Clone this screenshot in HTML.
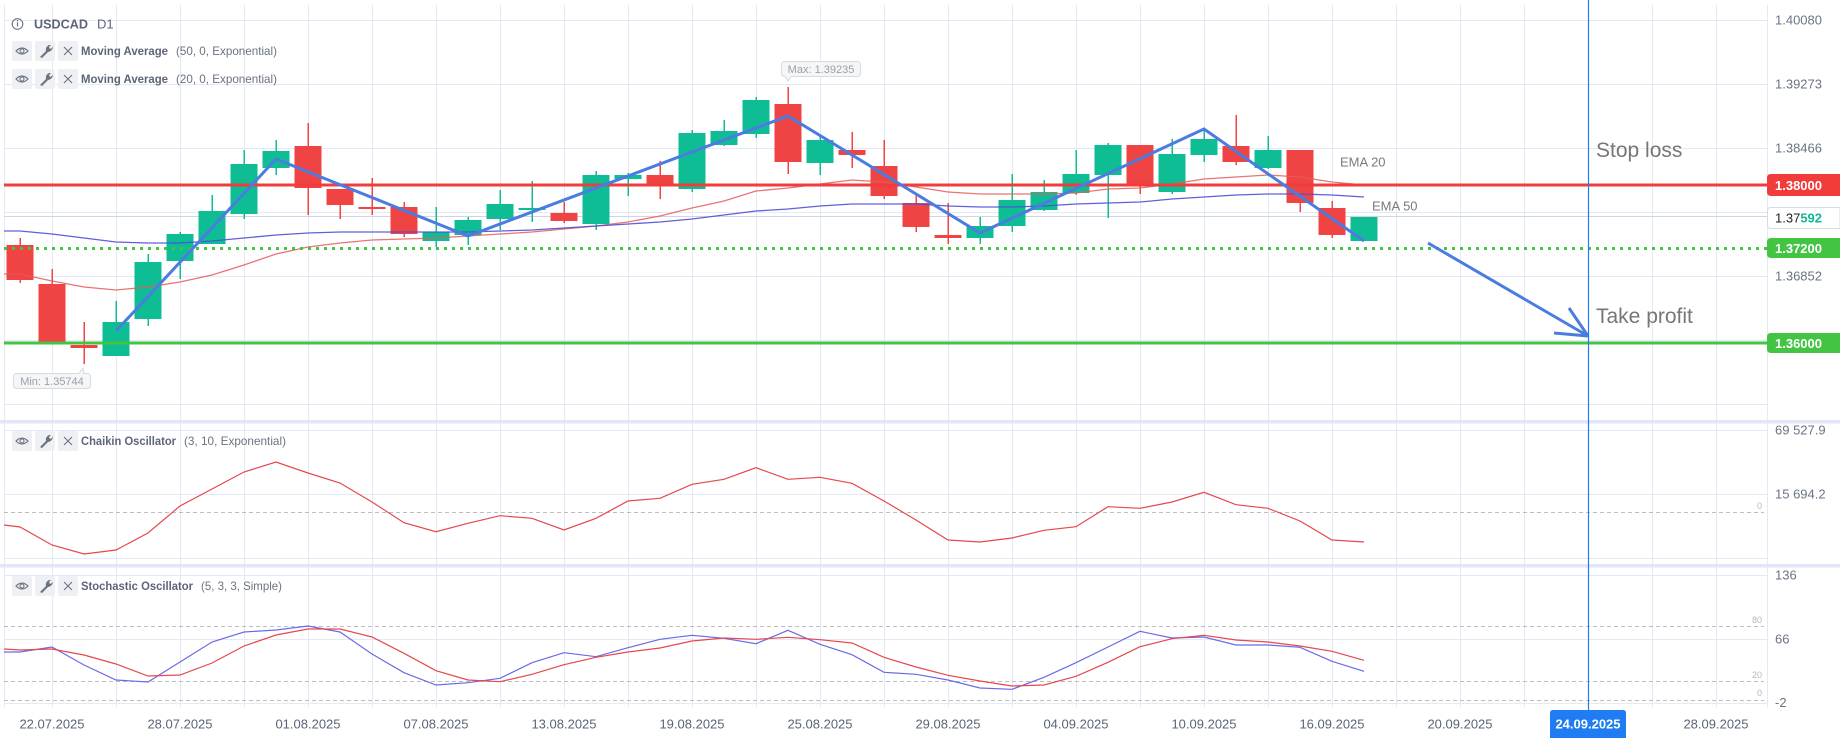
<!DOCTYPE html>
<html><head><meta charset="utf-8"><style>
html,body{margin:0;padding:0;background:#fff;}
svg{display:block;font-family:"Liberation Sans",sans-serif;}
</style></head><body>
<svg width="1840" height="738" viewBox="0 0 1840 738" xmlns="http://www.w3.org/2000/svg">
<rect width="1840" height="738" fill="#fff"/>
<defs><clipPath id="cp"><rect x="4" y="0" width="1763" height="708"/></clipPath></defs>
<!-- grid -->
<g stroke="#e3e9f6" stroke-width="1" shape-rendering="crispEdges">
<line x1="4.5" y1="5" x2="4.5" y2="708"/>
<g id="vg">
<line x1="52.5" y1="5" x2="52.5" y2="708"/><line x1="116.5" y1="5" x2="116.5" y2="708"/><line x1="180.5" y1="5" x2="180.5" y2="708"/><line x1="244.5" y1="5" x2="244.5" y2="708"/><line x1="308.5" y1="5" x2="308.5" y2="708"/><line x1="372.5" y1="5" x2="372.5" y2="708"/><line x1="436.5" y1="5" x2="436.5" y2="708"/><line x1="500.5" y1="5" x2="500.5" y2="708"/><line x1="564.5" y1="5" x2="564.5" y2="708"/><line x1="628.5" y1="5" x2="628.5" y2="708"/><line x1="692.5" y1="5" x2="692.5" y2="708"/><line x1="756.5" y1="5" x2="756.5" y2="708"/><line x1="820.5" y1="5" x2="820.5" y2="708"/><line x1="884.5" y1="5" x2="884.5" y2="708"/><line x1="948.5" y1="5" x2="948.5" y2="708"/><line x1="1012.5" y1="5" x2="1012.5" y2="708"/><line x1="1076.5" y1="5" x2="1076.5" y2="708"/><line x1="1140.5" y1="5" x2="1140.5" y2="708"/><line x1="1204.5" y1="5" x2="1204.5" y2="708"/><line x1="1268.5" y1="5" x2="1268.5" y2="708"/><line x1="1332.5" y1="5" x2="1332.5" y2="708"/><line x1="1396.5" y1="5" x2="1396.5" y2="708"/><line x1="1460.5" y1="5" x2="1460.5" y2="708"/><line x1="1524.5" y1="5" x2="1524.5" y2="708"/><line x1="1588.5" y1="5" x2="1588.5" y2="708"/><line x1="1652.5" y1="5" x2="1652.5" y2="708"/><line x1="1716.5" y1="5" x2="1716.5" y2="708"/>
</g>
<line x1="1767.5" y1="5" x2="1767.5" y2="708"/>
<line x1="4" y1="20.5" x2="1767" y2="20.5"/><line x1="4" y1="84.5" x2="1767" y2="84.5"/><line x1="4" y1="148.5" x2="1767" y2="148.5"/><line x1="4" y1="212.5" x2="1767" y2="212.5"/><line x1="4" y1="276.5" x2="1767" y2="276.5"/><line x1="4" y1="340.5" x2="1767" y2="340.5"/><line x1="4" y1="404.5" x2="1767" y2="404.5"/>
<line x1="4" y1="430.5" x2="1767" y2="430.5"/><line x1="4" y1="494.5" x2="1767" y2="494.5"/><line x1="4" y1="558.5" x2="1767" y2="558.5"/>
<line x1="4" y1="575.5" x2="1767" y2="575.5"/><line x1="4" y1="639.5" x2="1767" y2="639.5"/><line x1="4" y1="703.5" x2="1767" y2="703.5"/>
</g>
<!-- separators -->
<rect x="0" y="420" width="1840" height="3.5" fill="#e0e7f6"/>
<rect x="0" y="564" width="1840" height="3.5" fill="#e0e7f6"/>
<!-- dashed levels -->
<g stroke="#bdbdbd" stroke-width="1" stroke-dasharray="4 3" shape-rendering="crispEdges">
<line x1="4" y1="512.5" x2="1764" y2="512.5"/>
<line x1="4" y1="626.5" x2="1764" y2="626.5"/>
<line x1="4" y1="681.5" x2="1764" y2="681.5"/>
<line x1="4" y1="700.5" x2="1764" y2="700.5"/>
</g>
<!-- current price line -->
<line x1="4" y1="216.5" x2="1767" y2="216.5" stroke="#cfd5e3" stroke-width="1" shape-rendering="crispEdges"/>

<g clip-path="url(#cp)">
<!-- candles -->
<g id="candles" shape-rendering="crispEdges">
<g fill="#f04343" stroke="none">
<rect x="19.25" y="238" width="1.5" height="45"/><rect x="6.5" y="245" width="27" height="35"/>
<rect x="51.25" y="269" width="1.5" height="73"/><rect x="38.5" y="284" width="27" height="58"/>
<rect x="83.25" y="322" width="1.5" height="42"/><rect x="70.5" y="345" width="27" height="3"/>
<rect x="307.25" y="123" width="1.5" height="92"/><rect x="294.5" y="146" width="27" height="42"/>
<rect x="339.25" y="189" width="1.5" height="30"/><rect x="326.5" y="189" width="27" height="16"/>
<rect x="371.25" y="178" width="1.5" height="37"/><rect x="358.5" y="207" width="27" height="2"/>
<rect x="403.25" y="202" width="1.5" height="35"/><rect x="390.5" y="207" width="27" height="27"/>
<rect x="563.25" y="202" width="1.5" height="21"/><rect x="550.5" y="213" width="27" height="8"/>
<rect x="659.25" y="161" width="1.5" height="38"/><rect x="646.5" y="175" width="27" height="10"/>
<rect x="787.25" y="87" width="1.5" height="87"/><rect x="774.5" y="104" width="27" height="58"/>
<rect x="851.25" y="132" width="1.5" height="36"/><rect x="838.5" y="150" width="27" height="5"/>
<rect x="883.25" y="140" width="1.5" height="59"/><rect x="870.5" y="166" width="27" height="30"/>
<rect x="915.25" y="195" width="1.5" height="37"/><rect x="902.5" y="203" width="27" height="24"/>
<rect x="947.25" y="203" width="1.5" height="41"/><rect x="934.5" y="235" width="27" height="3"/>
<rect x="1139.25" y="145" width="1.5" height="49"/><rect x="1126.5" y="145" width="27" height="40"/>
<rect x="1235.25" y="115" width="1.5" height="50"/><rect x="1222.5" y="146" width="27" height="16"/>
<rect x="1299.25" y="150" width="1.5" height="62"/><rect x="1286.5" y="150" width="27" height="53"/>
<rect x="1331.25" y="201" width="1.5" height="37"/><rect x="1318.5" y="208" width="27" height="27"/>
</g>
<g fill="#0fbd95" stroke="none">
<rect x="115.25" y="301" width="1.5" height="55"/><rect x="102.5" y="322" width="27" height="34"/>
<rect x="147.25" y="254" width="1.5" height="72"/><rect x="134.5" y="262" width="27" height="57"/>
<rect x="179.25" y="232" width="1.5" height="47"/><rect x="166.5" y="234" width="27" height="27"/>
<rect x="211.25" y="195" width="1.5" height="49"/><rect x="198.5" y="211" width="27" height="33"/>
<rect x="243.25" y="150" width="1.5" height="69"/><rect x="230.5" y="164" width="27" height="50"/>
<rect x="275.25" y="140" width="1.5" height="35"/><rect x="262.5" y="151" width="27" height="17"/>
<rect x="435.25" y="207" width="1.5" height="40"/><rect x="422.5" y="232" width="27" height="9"/>
<rect x="467.25" y="217" width="1.5" height="28"/><rect x="454.5" y="220" width="27" height="15"/>
<rect x="499.25" y="190" width="1.5" height="40"/><rect x="486.5" y="204" width="27" height="15"/>
<rect x="531.25" y="181" width="1.5" height="41"/><rect x="518.5" y="208" width="27" height="2"/>
<rect x="595.25" y="171" width="1.5" height="59"/><rect x="582.5" y="175" width="27" height="49"/>
<rect x="627.25" y="173" width="1.5" height="23"/><rect x="614.5" y="175" width="27" height="4"/>
<rect x="691.25" y="130" width="1.5" height="62"/><rect x="678.5" y="133" width="27" height="56"/>
<rect x="723.25" y="120" width="1.5" height="26"/><rect x="710.5" y="131" width="27" height="14"/>
<rect x="755.25" y="97" width="1.5" height="41"/><rect x="742.5" y="100" width="27" height="34"/>
<rect x="819.25" y="136" width="1.5" height="39"/><rect x="806.5" y="140" width="27" height="23"/>
<rect x="979.25" y="217" width="1.5" height="27"/><rect x="966.5" y="226" width="27" height="12"/>
<rect x="1011.25" y="174" width="1.5" height="58"/><rect x="998.5" y="200" width="27" height="26"/>
<rect x="1043.25" y="180" width="1.5" height="31"/><rect x="1030.5" y="192" width="27" height="18"/>
<rect x="1075.25" y="150" width="1.5" height="45"/><rect x="1062.5" y="174" width="27" height="19"/>
<rect x="1107.25" y="143" width="1.5" height="75"/><rect x="1094.5" y="145" width="27" height="30"/>
<rect x="1171.25" y="139" width="1.5" height="55"/><rect x="1158.5" y="154" width="27" height="38"/>
<rect x="1203.25" y="129" width="1.5" height="33"/><rect x="1190.5" y="139" width="27" height="16"/>
<rect x="1267.25" y="136" width="1.5" height="33"/><rect x="1254.5" y="150" width="27" height="18"/>
<rect x="1350.5" y="217" width="27" height="24"/>
</g>
</g>
<!-- EMAs -->
<polyline fill="none" stroke="#e65b5b" stroke-width="1.3" stroke-opacity="0.85" points="4,274 20,274 52,281 84,287 116,290 148,287 180,282 212,275 244,265 276,254 308,247 340,243 372,240 404,239 436,238 468,236 500,234 532,232 564,229 596,226 628,222 660,216 692,208 724,201 756,191 788,188 820,184 852,180 884,182 916,187 948,192 980,194 1012,194 1044,194 1076,193 1108,189 1140,188 1172,184 1204,179 1236,177 1268,175 1300,177 1332,182 1364,185"/>
<polyline fill="none" stroke="#4f4fd6" stroke-width="1.3" stroke-opacity="0.9" points="4,231 20,231 52,234 84,238 116,242 148,243 180,243 212,241 244,238 276,235 308,233 340,232 372,232 404,232 436,232 468,232 500,231 532,230 564,228 596,226 628,224 660,222 692,219 724,215 756,211 788,209 820,206 852,204 884,204 916,204 948,206 980,207 1012,207 1044,206 1076,204 1108,203 1140,202 1172,199 1204,197 1236,195 1268,194 1300,194 1332,195 1364,197"/>
<!-- oscillators -->
<polyline fill="none" stroke="#e5484d" stroke-width="1.2" points="4,525 20,527 52,545 84,554 116,550 148,533 180,506 212,489 244,472 276,462 308,473 340,483 372,502 404,522.7 436,531.7 468,523.3 500,515.7 532,518.3 564,530 596,518.3 628,501 660,498.3 692,484.3 724,479.3 756,467.7 788,479.3 820,477.3 852,483.3 884,501 916,520 948,540 980,542 1012,538 1044,530.3 1076,526.7 1108,506.7 1140,508.3 1172,502 1204,492.3 1236,504.7 1268,508.3 1300,521 1332,540 1364,542"/>
<polyline fill="none" stroke="#6a6ae8" stroke-width="1.2" points="4,652 20,652 52,647 84,665 116,680 148,682 180,662 212,642 244,632 276,630 308,626 340,632 372,654 404,672.7 436,685 468,682.7 500,678.3 532,662.7 564,652.7 596,656.7 628,647.7 660,639.3 692,635.3 724,638.3 756,643.7 788,630.3 820,644.3 852,654.7 884,672.3 916,674.3 948,680 980,688 1012,689.3 1044,677.3 1076,662.7 1108,647 1140,631.3 1172,638 1204,637 1236,645 1268,645 1300,647.3 1332,661.3 1364,671.3"/>
<polyline fill="none" stroke="#e5484d" stroke-width="1.2" points="4,649 20,650 52,649 84,655 116,664 148,676 180,675 212,663 244,646 276,635 308,629 340,629 372,637 404,653.3 436,670.7 468,680 500,681.7 532,674.3 564,664.7 596,657.3 628,652 660,648 692,641 724,638 756,639.3 788,637.3 820,639.7 852,643 884,657.3 916,667 948,675.3 980,681 1012,686 1044,685 1076,676.3 1108,662.3 1140,646.7 1172,638.7 1204,635.3 1236,640 1268,642 1300,646 1332,651.3 1364,660.3"/>
</g>

<!-- horizontal levels -->
<rect x="4" y="183.5" width="1763" height="3" fill="#f23b3b"/>
<line x1="4" y1="248.5" x2="1767" y2="248.5" stroke="#43c443" stroke-width="3" stroke-dasharray="3 5"/>
<rect x="4" y="341.5" width="1763" height="3" fill="#43c443"/>

<!-- trend line -->
<polyline fill="none" stroke="#4a7ddf" stroke-width="3" stroke-linejoin="miter" points="116,331 276,159 468,236 788,116 980,233 1204,129 1364,241"/>
<g stroke="#4a7ddf" stroke-width="3" fill="none" stroke-linecap="butt">
<line x1="1428" y1="243" x2="1588" y2="336"/>
<line x1="1569" y1="308" x2="1588" y2="336"/>
<line x1="1554" y1="333" x2="1588" y2="336"/>
</g>

<!-- vertical blue line -->
<line x1="1588.5" y1="0" x2="1588.5" y2="712" stroke="#1f7cf2" stroke-width="1.2"/>

<!-- text annotations -->
<text x="1340" y="166.5" font-size="13" fill="#7a7a7a">EMA 20</text>
<text x="1372" y="210.5" font-size="13" fill="#7a7a7a">EMA 50</text>
<text x="1596" y="157" font-size="21" fill="#767676">Stop loss</text>
<text x="1596" y="323" font-size="21" fill="#767676">Take profit</text>

<!-- Max / Min labels -->
<g>
<rect x="781.5" y="61.5" width="79" height="15" rx="3" fill="#f5f6f8" stroke="#d6dae1"/>
<path d="M785,76.5 L788,81 L791,76.5" fill="#f5f6f8" stroke="#d6dae1"/>
<rect x="785.5" y="75" width="5" height="2" fill="#f5f6f8"/>
<text x="821" y="73" font-size="11" fill="#9aa0aa" text-anchor="middle">Max: 1.39235</text>
<rect x="13.5" y="373.5" width="77" height="15" rx="3" fill="#f5f6f8" stroke="#d6dae1"/>
<path d="M79,373.5 L83,368 L84,373.5" fill="#f5f6f8" stroke="#d6dae1"/>
<rect x="79.5" y="373" width="4" height="2" fill="#f5f6f8"/>
<text x="52" y="385" font-size="11" fill="#9aa0aa" text-anchor="middle">Min: 1.35744</text>
</g>

<!-- legends -->
<g>
<circle cx="17.5" cy="24" r="5.3" fill="none" stroke="#6b7280" stroke-width="1.1"/>
<rect x="16.9" y="22.3" width="1.2" height="4.2" fill="#6b7280"/><rect x="16.9" y="20" width="1.2" height="1.3" fill="#6b7280"/>
<text x="34" y="28.5" font-size="13" font-weight="bold" fill="#5d6577" textLength="54" lengthAdjust="spacingAndGlyphs">USDCAD</text>
<text x="97" y="28.5" font-size="13" fill="#5d6577">D1</text>
</g>
<g id="btns">
<!-- row template drawn at 4 rows -->
</g>
<g fill="#eef0f4">
<rect x="12" y="41" width="20" height="20" rx="2"/><rect x="35" y="41" width="20" height="20" rx="2"/><rect x="58" y="41" width="20" height="20" rx="2"/>
<rect x="12" y="69" width="20" height="20" rx="2"/><rect x="35" y="69" width="20" height="20" rx="2"/><rect x="58" y="69" width="20" height="20" rx="2"/>
<rect x="12" y="431" width="20" height="20" rx="2"/><rect x="35" y="431" width="20" height="20" rx="2"/><rect x="58" y="431" width="20" height="20" rx="2"/>
<rect x="12" y="576" width="20" height="20" rx="2"/><rect x="35" y="576" width="20" height="20" rx="2"/><rect x="58" y="576" width="20" height="20" rx="2"/>
</g>
<g stroke="#6b7280" fill="none" stroke-width="1.1">
<!-- eyes -->
<path d="M16,51 Q22,45 28,51 Q22,57 16,51 Z"/><circle cx="22" cy="51" r="2"/>
<path d="M16,79 Q22,73 28,79 Q22,85 16,79 Z"/><circle cx="22" cy="79" r="2"/>
<path d="M16,441 Q22,435 28,441 Q22,447 16,441 Z"/><circle cx="22" cy="441" r="2"/>
<path d="M16,586 Q22,580 28,586 Q22,592 16,586 Z"/><circle cx="22" cy="586" r="2"/>
<!-- X -->
<path d="M64,47 L72,55 M72,47 L64,55"/>
<path d="M64,75 L72,83 M72,75 L64,83"/>
<path d="M64,437 L72,445 M72,437 L64,445"/>
<path d="M64,582 L72,590 M72,582 L64,590"/>
</g>
<g fill="#6b7280">
<path d="M40,57 L46,51 Q45,47 49,45 L51,45 L49,47 L50,49 L52,48 L53,46 Q53,51 48,52 L42,58 Z"/>
<path d="M40,85 L46,79 Q45,75 49,73 L51,73 L49,75 L50,77 L52,76 L53,74 Q53,79 48,80 L42,86 Z"/>
<path d="M40,447 L46,441 Q45,437 49,435 L51,435 L49,437 L50,439 L52,438 L53,436 Q53,441 48,442 L42,448 Z"/>
<path d="M40,592 L46,586 Q45,582 49,580 L51,580 L49,582 L50,584 L52,583 L53,581 Q53,586 48,587 L42,593 Z"/>
</g>
<g font-size="12" fill="#5d6577">
<text x="81" y="55" font-weight="bold" textLength="87" lengthAdjust="spacingAndGlyphs">Moving Average</text>
<text x="176" y="55" fill="#6b7280" textLength="101" lengthAdjust="spacingAndGlyphs">(50, 0, Exponential)</text>
<text x="81" y="83" font-weight="bold" textLength="87" lengthAdjust="spacingAndGlyphs">Moving Average</text>
<text x="176" y="83" fill="#6b7280" textLength="101" lengthAdjust="spacingAndGlyphs">(20, 0, Exponential)</text>
<text x="81" y="445" font-weight="bold" textLength="95" lengthAdjust="spacingAndGlyphs">Chaikin Oscillator</text>
<text x="184" y="445" fill="#6b7280" textLength="102" lengthAdjust="spacingAndGlyphs">(3, 10, Exponential)</text>
<text x="81" y="590" font-weight="bold" textLength="112" lengthAdjust="spacingAndGlyphs">Stochastic Oscillator</text>
<text x="201" y="590" fill="#6b7280" textLength="81" lengthAdjust="spacingAndGlyphs">(5, 3, 3, Simple)</text>
</g>

<!-- right axis -->
<g font-size="13" fill="#6b7385">
<text x="1775" y="24.5">1.40080</text>
<text x="1775" y="88.5">1.39273</text>
<text x="1775" y="152.5">1.38466</text>
<text x="1775" y="280.5">1.36852</text>
<text x="1775" y="434.5">69 527.9</text>
<text x="1775" y="498.5">15 694.2</text>
<text x="1775" y="579.5">136</text>
<text x="1775" y="643.5">66</text>
<text x="1775" y="707">-2</text>
</g>
<g font-size="9" fill="#b4b8bf" text-anchor="end">
<text x="1762" y="509">0</text>
<text x="1762" y="623">80</text>
<text x="1762" y="678">20</text>
<text x="1762" y="696">0</text>
</g>
<!-- price boxes -->
<path d="M1771,174 H1840 V196 H1771 Q1767,196 1767,192 V178 Q1767,174 1771,174 Z" fill="#f23b3b"/>
<text x="1775" y="190" font-size="13" font-weight="bold" fill="#fff">1.38000</text>
<path d="M1771,207.5 H1840 V228.5 H1771 Q1767.5,228.5 1767.5,225 V211 Q1767.5,207.5 1771,207.5 Z" fill="#fff" stroke="#d5dbe7"/>
<text x="1775" y="222.5" font-size="13" fill="#222">1.37<tspan font-weight="bold" fill="#12b892">592</tspan></text>
<path d="M1771,238 H1840 V258 H1771 Q1767,258 1767,254 V242 Q1767,238 1771,238 Z" fill="#43c443"/>
<text x="1775" y="253" font-size="13" font-weight="bold" fill="#fff">1.37200</text>
<path d="M1771,333 H1840 V353 H1771 Q1767,353 1767,349 V337 Q1767,333 1771,333 Z" fill="#43c443"/>
<text x="1775" y="348" font-size="13" font-weight="bold" fill="#fff">1.36000</text>

<!-- time axis -->
<g font-size="13" fill="#5b6478" text-anchor="middle">
<text x="52" y="728.5">22.07.2025</text>
<text x="180" y="728.5">28.07.2025</text>
<text x="308" y="728.5">01.08.2025</text>
<text x="436" y="728.5">07.08.2025</text>
<text x="564" y="728.5">13.08.2025</text>
<text x="692" y="728.5">19.08.2025</text>
<text x="820" y="728.5">25.08.2025</text>
<text x="948" y="728.5">29.08.2025</text>
<text x="1076" y="728.5">04.09.2025</text>
<text x="1204" y="728.5">10.09.2025</text>
<text x="1332" y="728.5">16.09.2025</text>
<text x="1460" y="728.5">20.09.2025</text>
<text x="1716" y="728.5">28.09.2025</text>
</g>
<path d="M1553,710 H1623 Q1626,710 1626,713 V738 H1550 V713 Q1550,710 1553,710 Z" fill="#1f7cf2"/>
<text x="1588" y="728.5" font-size="13" font-weight="bold" fill="#fff" text-anchor="middle">24.09.2025</text>
</svg>
</body></html>
